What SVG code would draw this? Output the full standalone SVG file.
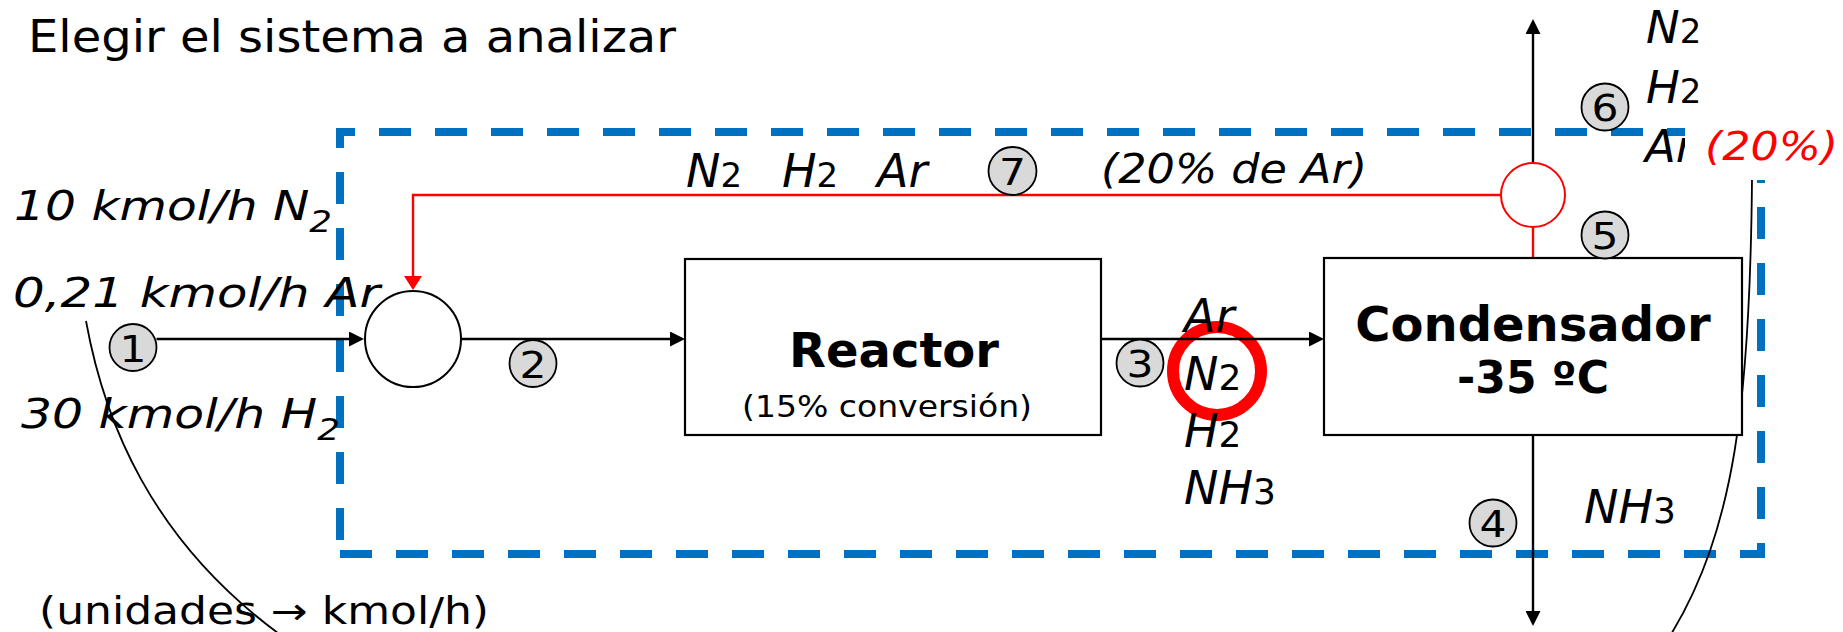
<svg xmlns="http://www.w3.org/2000/svg" width="1843" height="632" viewBox="0 0 1843 632">
<style>
text { font-family: "DejaVu Sans", "Liberation Sans", sans-serif; fill: #000; }
.it { font-style: italic; }
.dg { font-style: normal; }
.bold { font-weight: bold; text-anchor: middle; }
.num { font-size: 38px; text-anchor: middle; }
.ncirc { fill: #D9D9D9; stroke: #000; stroke-width: 1.8; }
.box { fill: #fff; stroke: #000; stroke-width: 2.2; }
.bline { fill: none; stroke: #000; stroke-width: 2.4; }
.rline { fill: none; stroke: #FF0000; stroke-width: 2.4; }
.bound { stroke: #0070C0; stroke-width: 8; stroke-dasharray: 24 32; stroke-linecap: square; fill: none; }
.callout { fill: none; stroke: #000; stroke-width: 1.8; }
</style>
<defs>
<marker id="ahB" markerUnits="userSpaceOnUse" viewBox="0 0 15 15" markerWidth="15" markerHeight="15" refX="0" refY="7.5" orient="auto">
<path d="M0,0 L15,7.5 L0,15 Z" fill="#000"/>
</marker>
<marker id="ahR" markerUnits="userSpaceOnUse" viewBox="0 0 14 18" markerWidth="14" markerHeight="18" refX="0" refY="9" orient="auto">
<path d="M0,0 L14,9 L0,18 Z" fill="#FF0000"/>
</marker>
</defs>
<rect x="0" y="0" width="1843" height="632" fill="#fff"/>

<text id="title" x="28" y="52" font-size="45" textLength="648" lengthAdjust="spacingAndGlyphs">Elegir el sistema a analizar</text>

<g id="system-boundary">
<line class="bound" x1="340" y1="132" x2="1761" y2="132" stroke-dashoffset="13"/>
<line class="bound" x1="1761" y1="132" x2="1761" y2="554" stroke-dashoffset="33"/>
<line class="bound" x1="340" y1="554" x2="1761" y2="554" stroke-dashoffset="52"/>
<line class="bound" x1="340" y1="132" x2="340" y2="554" stroke-dashoffset="12"/>
</g>

<g id="highlight-ring">
<circle cx="1217" cy="371" r="44" fill="none" stroke="#FF0000" stroke-width="12"/>
</g>

<g id="connectors">
<path class="bline" d="M156.5,339 H349" marker-end="url(#ahB)"/>
<path class="bline" d="M461,339 H670" marker-end="url(#ahB)"/>
<path class="bline" d="M1101,339 H1309" marker-end="url(#ahB)"/>
<path class="bline" d="M1533,435 V611" marker-end="url(#ahB)"/>
<path class="rline" d="M1533,258 V227"/>
<path class="bline" d="M1533,163 V34" marker-end="url(#ahB)"/>
<path class="rline" d="M1501,195 H413 V276" marker-end="url(#ahR)"/>
</g>

<g id="callouts">
<path class="callout" d="M86,321 C104,420 150,540 282,636"/>
<path class="callout" d="M1752,180 C1750,400 1735,530 1670,636"/>
</g>

<g id="mixer">
<circle cx="413" cy="339" r="48" fill="#fff" stroke="#000" stroke-width="2"/>
</g>

<g id="reactor">
<rect class="box" x="685" y="259" width="416" height="176"/>
<text class="bold" x="894" y="367" font-size="48">Reactor</text>
<text x="742" y="417" font-size="30" textLength="290" lengthAdjust="spacingAndGlyphs">(15% conversión)</text>
</g>

<g id="condenser">
<rect class="box" x="1324" y="258" width="418" height="177"/>
<text class="bold" x="1533" y="341" font-size="48">Condensador</text>
<text class="bold" x="1533" y="393" font-size="44">-35 ºC</text>
</g>

<g id="splitter">
<circle cx="1533" cy="195" r="32" fill="#fff" stroke="#FF0000" stroke-width="2"/>
</g>

<g id="stream-1">
<circle class="ncirc" cx="133" cy="347.5" r="23.5"/>
<text class="num" x="133" y="361.5" textLength="27" lengthAdjust="spacingAndGlyphs">1</text>
</g>
<g id="stream-2">
<circle class="ncirc" cx="533" cy="363.5" r="23.5"/>
<text class="num" x="533" y="377.5" textLength="27" lengthAdjust="spacingAndGlyphs">2</text>
</g>
<g id="stream-3">
<circle class="ncirc" cx="1140" cy="363" r="23.5"/>
<text class="num" x="1140" y="377" textLength="27" lengthAdjust="spacingAndGlyphs">3</text>
</g>
<g id="stream-4">
<circle class="ncirc" cx="1493" cy="523" r="23.5"/>
<text class="num" x="1493" y="537" textLength="27" lengthAdjust="spacingAndGlyphs">4</text>
</g>
<g id="stream-5">
<circle class="ncirc" cx="1605" cy="235" r="23.5"/>
<text class="num" x="1605" y="249" textLength="27" lengthAdjust="spacingAndGlyphs">5</text>
</g>
<g id="stream-6">
<circle class="ncirc" cx="1605" cy="107" r="23.5"/>
<text class="num" x="1605" y="121" textLength="27" lengthAdjust="spacingAndGlyphs">6</text>
</g>
<g id="stream-7">
<circle class="ncirc" cx="1012.5" cy="171" r="24"/>
<text class="num" x="1012.5" y="185" textLength="27" lengthAdjust="spacingAndGlyphs">7</text>
</g>

<g id="feed-labels">
<text class="it" x="14" y="220" font-size="41" textLength="318" lengthAdjust="spacingAndGlyphs">10 kmol/h N<tspan font-size="30" dy="12">2</tspan></text>
<text class="it" x="13" y="307" font-size="41" textLength="367" lengthAdjust="spacingAndGlyphs">0,21 kmol/h Ar</text>
<text class="it" x="21" y="428" font-size="41" textLength="319" lengthAdjust="spacingAndGlyphs">30 kmol/h H<tspan font-size="30" dy="12">2</tspan></text>
<text x="39" y="624" font-size="37" textLength="450" lengthAdjust="spacingAndGlyphs">(unidades → kmol/h)</text>
</g>

<g id="recycle-labels">
<text class="it" x="686" y="187" font-size="46">N<tspan class="dg" font-size="34">2</tspan></text>
<text class="it" x="782" y="187" font-size="46">H<tspan class="dg" font-size="34">2</tspan></text>
<text class="it" x="877" y="187" font-size="46">Ar</text>
<text class="it" x="1101" y="183" font-size="40" textLength="266" lengthAdjust="spacingAndGlyphs">(20% de Ar)</text>
</g>

<g id="reactor-outlet-labels">
<text class="it" x="1184" y="332" font-size="46">Ar</text>
<text class="it" x="1184" y="390" font-size="46">N<tspan class="dg" font-size="36">2</tspan></text>
<text class="it" x="1184" y="447" font-size="46">H<tspan class="dg" font-size="36">2</tspan></text>
<text class="it" x="1184" y="504" font-size="46">NH<tspan class="dg" font-size="36">3</tspan></text>
</g>

<g id="product-labels">
<text class="it" x="1584" y="523" font-size="46">NH<tspan class="dg" font-size="36">3</tspan></text>
<text class="it" x="1646" y="43" font-size="45">N<tspan class="dg" font-size="34">2</tspan></text>
<text class="it" x="1646" y="103" font-size="45">H<tspan class="dg" font-size="34">2</tspan></text>
<text class="it" x="1645" y="162" font-size="45">Ar</text>
</g>

<g id="purge-note">
<rect x="1685" y="112" width="158" height="68" fill="#fff"/>
<text class="it" x="1705" y="160" font-size="39" fill="#FF0000" style="fill:#FF0000" textLength="133" lengthAdjust="spacingAndGlyphs">(20%)</text>
</g>
</svg>
